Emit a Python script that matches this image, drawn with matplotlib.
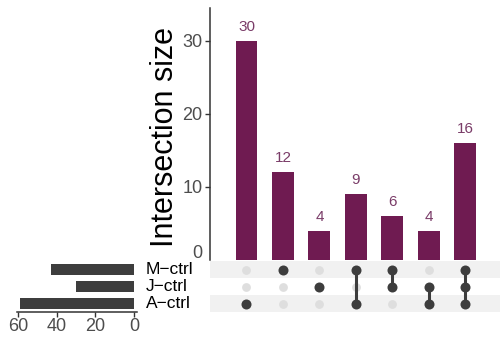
import matplotlib
matplotlib.use("Agg")
import matplotlib.pyplot as plt
from matplotlib.transforms import blended_transform_factory, ScaledTranslation

plt.rcParams["font.family"] = ["Liberation Sans", "DejaVu Sans"]

# sets, top row first in the matrix
set_names = ["M\u2212ctrl", "J\u2212ctrl", "A\u2212ctrl"]
set_sizes = [43, 30, 59]

# intersections, left to right
intersection_sizes = [30, 12, 4, 9, 6, 4, 16]
memberships = [
    ["A\u2212ctrl"],
    ["M\u2212ctrl"],
    ["J\u2212ctrl"],
    ["M\u2212ctrl", "A\u2212ctrl"],
    ["M\u2212ctrl", "J\u2212ctrl"],
    ["J\u2212ctrl", "A\u2212ctrl"],
    ["M\u2212ctrl", "J\u2212ctrl", "A\u2212ctrl"],
]

BAR = "#6f1b51"
BAR_TEXT = "#7a3c68"
DOT = "#3d3d3d"
EMPTY = "#dedede"
STRIPE = "#f1f1f1"
TICK = "#4d4d4d"

W, H = 501, 345
fig = plt.figure(figsize=(W / 100, H / 100), dpi=100)


def px_axes(x0, y0, x1, y1):
    return fig.add_axes([x0 / W, 1 - y1 / H, (x1 - x0) / W, (y1 - y0) / H])


ax_bar = px_axes(210, 8, 500, 260)
ax_mat = px_axes(210, 261, 500, 312)
ax_set = px_axes(17, 261, 137, 312)

cols = list(range(len(intersection_sizes)))
# row index: bottom row = 0
row_of = {name: len(set_names) - 1 - i for i, name in enumerate(set_names)}

# intersection size bars
ax_bar.bar(cols, intersection_sizes, width=0.6, color=BAR)
for x, v in zip(cols, intersection_sizes):
    ax_bar.annotate(str(v), (x, v), xytext=(0, 5), textcoords="offset points",
                    ha="center", va="bottom", fontsize=11, color=BAR_TEXT)
ax_bar.set_xlim(-1.0, 6.95)
ax_bar.set_ylim(0, 34.5)
ax_bar.set_yticks([0, 10, 20, 30])
ax_bar.set_xticks([])
for s in ["top", "right", "bottom"]:
    ax_bar.spines[s].set_visible(False)
ax_bar.spines["left"].set_color("#333333")
ax_bar.spines["left"].set_linewidth(1.1)
ax_bar.tick_params(axis="y", labelsize=13, labelcolor=TICK, color="#333333",
                   length=3.5, width=1.0, pad=2)
ax_bar.set_ylabel("Intersection size", fontsize=22)
ax_bar.yaxis.set_label_coords(-0.105, 0.49)

# the zero label sits a little above the panel floor, without a tick
fig.canvas.draw()
zero_tick = ax_bar.yaxis.get_major_ticks()[0]
zero_tick.tick1line.set_visible(False)
zero_tick.label1.set_transform(zero_tick.label1.get_transform()
                               + ScaledTranslation(0, 8 / 100, fig.dpi_scale_trans))

# matrix of dots
for name in set_names:
    r = row_of[name]
    if r % 2 == 0:
        ax_mat.axhspan(r - 0.5, r + 0.5, color=STRIPE, lw=0)
for x, members in zip(cols, memberships):
    rows = [row_of[m] for m in members]
    ax_mat.scatter([x] * len(set_names), list(range(len(set_names))),
                   s=40, color=EMPTY, zorder=2, lw=0)
    if len(rows) > 1:
        ax_mat.plot([x, x], [min(rows), max(rows)], color=DOT, lw=2.2, zorder=3)
    ax_mat.scatter([x] * len(rows), rows, s=52, color=DOT, zorder=4, lw=0)
ax_mat.set_xlim(-1.0, 6.95)
ax_mat.set_ylim(-0.5, len(set_names) - 0.5)
ax_mat.axis("off")

# set names between the two panels
label_tr = blended_transform_factory(fig.transFigure, ax_mat.transData)
for name in set_names:
    fig.text(146 / W, row_of[name], name, transform=label_tr, ha="left",
             va="center", fontsize=12.5)

# set size bars
ax_set.barh([row_of[n] for n in set_names], set_sizes, height=0.65, color=DOT)
ax_set.set_xlim(60.5, -1.5)
ax_set.set_ylim(-0.5, len(set_names) - 0.5)
ax_set.set_xticks([60, 40, 20, 0])
ax_set.set_yticks([])
for s in ["top", "right", "left"]:
    ax_set.spines[s].set_visible(False)
ax_set.spines["bottom"].set_color("#333333")
ax_set.spines["bottom"].set_linewidth(1.1)
ax_set.tick_params(axis="x", labelsize=13, labelcolor=TICK, color="#333333",
                   length=3.5, width=1.0, pad=1)

fig.savefig("out.png", dpi=100)
